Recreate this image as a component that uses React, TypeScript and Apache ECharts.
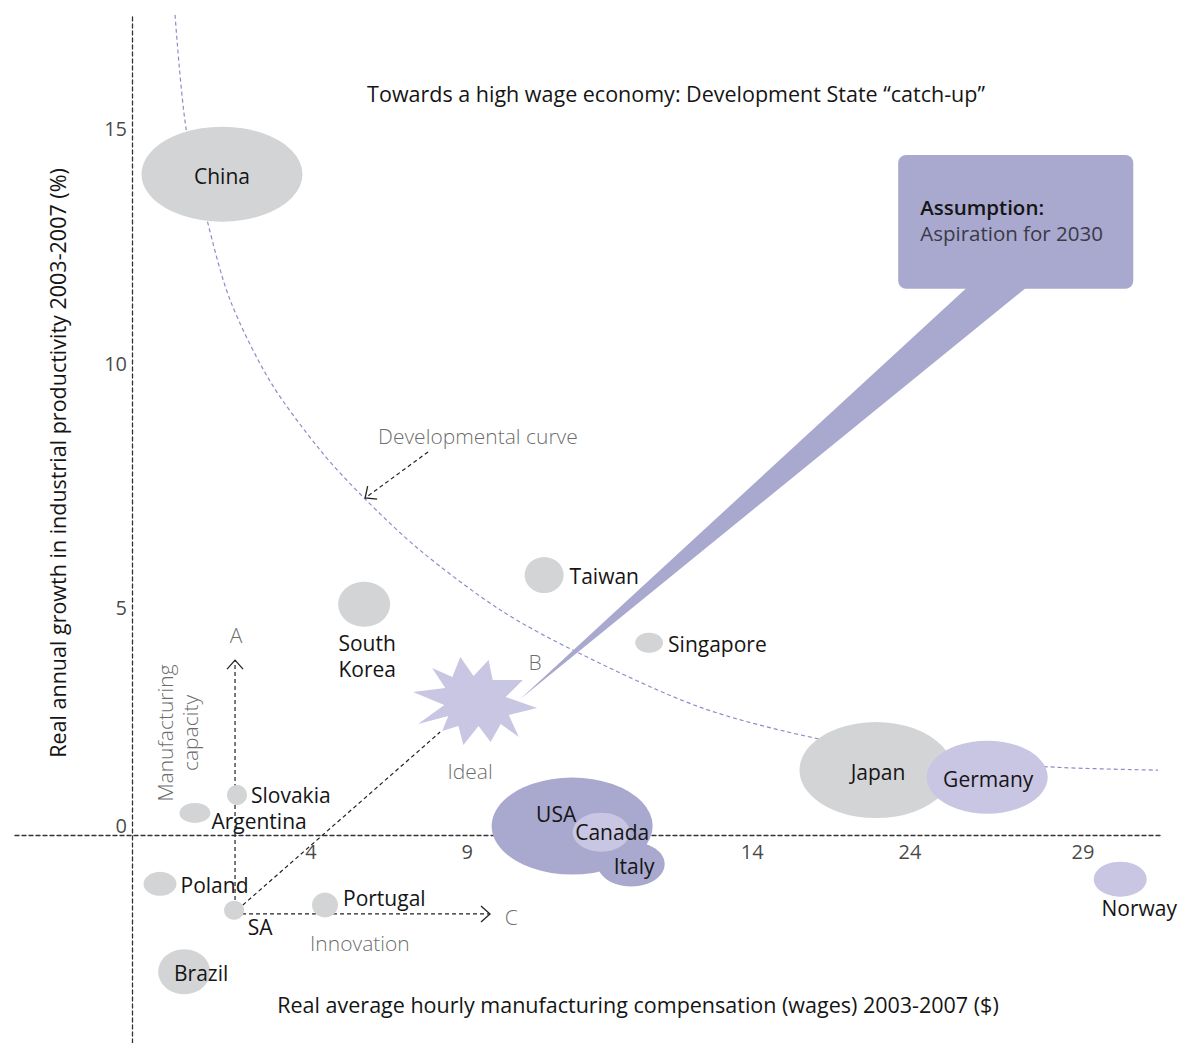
import React, { useEffect, useRef } from "react";
import * as echarts from "echarts";

// ---- Data ----
const countries = ["China", "South Korea", "Taiwan", "Singapore", "Japan", "Germany", "USA", "Italy", "Canada", "Norway", "Slovakia", "Argentina", "Poland", "SA", "Portugal", "Brazil"];
const wages = [2.76, 7.12, 12.64, 15.86, 22.82, 26.23, 13.5, 15.31, 14.39, 30.31, 3.22, 1.93, 0.86, 3.13, 5.92, 1.6];
const productivity = [14.06, 4.91, 5.53, 4.09, 1.38, 1.23, 0.19, -0.62, 0.06, -0.94, 0.85, 0.47, -1.04, -1.6, -1.49, -2.91];
const bubbleW = [161, 52, 39, 28, 153, 121, 161, 67, 57, 53, 20, 31, 33, 20, 26, 52];
const bubbleH = [95, 45, 36, 20, 96, 73, 97, 45, 39, 35, 20, 20, 24, 19, 25, 45];
const tier = ["emerging", "emerging", "emerging", "emerging", "emerging", "benchmark", "advanced", "advanced", "benchmark", "benchmark", "emerging", "emerging", "emerging", "emerging", "emerging", "emerging"];

const curveX = [1.32, 1.66, 2.3, 3.01, 4.23, 5.77, 7.09, 8.83, 11.29, 13.65, 17.42, 21.1, 24.79, 28.1, 31.47];
const curveY = [17.45, 15.02, 13.09, 11.38, 9.66, 8.19, 7.19, 6.06, 4.79, 3.89, 2.72, 2.04, 1.66, 1.45, 1.38];

const idealPoint = [10.52, 2.85];

const xTickLabels = ["4", "9", "14", "24", "29"];
const xTickPos = [5.49, 10.28, 19.02, 23.86, 29.17];
const yTickLabels = ["15", "10", "5", "0"];
const yTickPos = [15.04, 10.04, 4.83, 0.21];

// arrows: [x1, y1, x2, y2, hasHead]
const arrowA = [3.16, -1.68, 3.16, 3.72, 1];
const arrowC = [3.16, -1.68, 10.98, -1.68, 1];
const arrowB = [3.4, -1.49, 9.45, 2.19, 0];
const arrowCurve = [9.08, 8.15, 7.15, 7.17, 1];

const calloutBox = [23.5, 14.47, 30.71, 11.62];
const calloutBase = [25.77, 27.61, 11.75];
const calloutTip = [11.9, 2.89];

const noteTexts = ["A", "B", "C", "Ideal", "Innovation", "Developmental curve"];
const noteX = [3.19, 12.36, 11.63, 10.37, 6.99, 10.61];
const noteY = [4.26, 3.68, -1.74, 1.36, -2.3, 8.49];

const X_MIN = -3.589, X_MAX = 31.53, Y_MIN = -4.426, Y_MAX = 17.447;

const FONT = "'Open Sans', Lato, sans-serif";
const tierColor: Record<string, string> = { emerging: "#d3d4d6", advanced: "#a9a8ce", benchmark: "#c8c6e2" };

const labelCfg: Record<string, any> = {
  China: { position: "inside", offset: [0, 2] },
  "South Korea": { position: "bottom", distance: 3, offset: [3, 0], formatter: "South\nKorea", lineHeight: 26 },
  Taiwan: { position: "right", distance: 6, offset: [0, 1] },
  Singapore: { position: "right", distance: 5, offset: [0, 1] },
  Japan: { position: "inside", offset: [2, 2] },
  Germany: { position: "inside", offset: [1, 2] },
  USA: { position: "inside", offset: [-16, -12] },
  Italy: { position: "inside", offset: [3, 2] },
  Canada: { position: "inside", offset: [11, 0] },
  Norway: { position: "bottom", distance: 1, offset: [19, 0] },
  Slovakia: { position: "right", distance: 4, offset: [0, 0], lineHeight: 21 },
  Argentina: { position: "right", distance: 1, offset: [0, 8], lineHeight: 21 },
  Poland: { position: "right", distance: 4, offset: [0, 1] },
  SA: { position: "inside", offset: [26, 17] },
  Portugal: { position: "right", distance: 5, offset: [0, -7] },
  Brazil: { position: "inside", offset: [17, 1] },
};

const starPath =
  "path://M413,692L445,688L432,668L452,677L460,657L473,676L488,660L492,680L522,680L505,697L536,708L508,715L518,737L500,724L490,742L478,726L463,745L458,726L442,731L448,716L418,724L444,705Z";

export default function App() {
  const ref = useRef<HTMLDivElement>(null);
  useEffect(() => {
    if (!ref.current) return;
    const chart = echarts.init(ref.current, null, { renderer: "svg" });

    const bubbleData = countries.map((c, i) => ({
      name: c,
      value: [wages[i], productivity[i]],
      symbolSize: [bubbleW[i], bubbleH[i]],
      itemStyle: { color: tierColor[tier[i]] },
      label: {
        show: true,
        formatter: "{b}",
        color: "#151515",
        fontSize: 21,
        fontFamily: FONT,
        ...labelCfg[c],
      },
    }));

    const arrowRender = (params: any, api: any) => {
      const p1 = api.coord([api.value(0), api.value(1)]);
      const p2 = api.coord([api.value(2), api.value(3)]);
      const head = api.value(4);
      const children: any[] = [
        {
          type: "line",
          shape: { x1: p1[0], y1: p1[1], x2: p2[0], y2: p2[1] },
          style: { stroke: "#222", lineWidth: 1.2, lineDash: [4, 3] },
        },
      ];
      if (head) {
        const dx = p2[0] - p1[0], dy = p2[1] - p1[1];
        const len = Math.sqrt(dx * dx + dy * dy);
        const ux = dx / len, uy = dy / len;
        const nx = -uy, ny = ux;
        const L = 9, W = 8;
        children.push({
          type: "polyline",
          shape: {
            points: [
              [p2[0] - ux * L + nx * W, p2[1] - uy * L + ny * W],
              [p2[0], p2[1]],
              [p2[0] - ux * L - nx * W, p2[1] - uy * L - ny * W],
            ],
          },
          style: { stroke: "#222", lineWidth: 1.3, fill: null },
        });
      }
      return { type: "group", children };
    };

    const calloutRender = (params: any, api: any) => {
      const tl = api.coord([api.value(0), api.value(1)]);
      const br = api.coord([api.value(2), api.value(3)]);
      const bl = api.coord([api.value(4), api.value(6)]);
      const brw = api.coord([api.value(5), api.value(6)]);
      const tip = api.coord([api.value(7), api.value(8)]);
      return {
        type: "group",
        children: [
          {
            type: "polygon",
            shape: { points: [bl, brw, tip] },
            style: { fill: "#a9a8ce" },
          },
          {
            type: "rect",
            shape: { x: tl[0], y: tl[1], width: br[0] - tl[0], height: br[1] - tl[1], r: 8 },
            style: { fill: "#a9a8ce" },
          },
          {
            type: "text",
            x: tl[0] + 22,
            y: tl[1] + 52,
            style: { text: "Assumption:", fill: "#151515", fontSize: 20.5, fontWeight: 600, fontFamily: FONT, textAlign: "left", textVerticalAlign: "middle" },
          },
          {
            type: "text",
            x: tl[0] + 22,
            y: tl[1] + 78,
            style: { text: "Aspiration for 2030", fill: "#3a3a48", fontSize: 20.5, fontFamily: FONT, textAlign: "left", textVerticalAlign: "middle" },
          },
        ],
      };
    };

    const option: any = {
      animation: false,
      grid: { left: 15, right: 19, top: 15, bottom: 0, containLabel: false },
      xAxis: {
        type: "value",
        min: X_MIN,
        max: X_MAX,
        axisLine: { show: true, onZero: true, lineStyle: { color: "#333", width: 1.3, type: [4, 3] } },
        axisTick: { show: false },
        axisLabel: { show: false },
        splitLine: { show: false },
      },
      yAxis: {
        type: "value",
        min: Y_MIN,
        max: Y_MAX,
        axisLine: { show: true, onZero: true, lineStyle: { color: "#333", width: 1.3, type: [4, 3] } },
        axisTick: { show: false },
        axisLabel: { show: false },
        splitLine: { show: false },
      },
      graphic: [
        {
          type: "text",
          x: 676,
          y: 93,
          style: { text: "Towards a high wage economy: Development State \u201ccatch-up\u201d", fill: "#151515", fontSize: 21.5, fontFamily: FONT, textAlign: "center", textVerticalAlign: "middle" },
        },
        {
          type: "text",
          x: 638,
          y: 1004,
          style: { text: "Real average hourly manufacturing compensation (wages) 2003-2007 ($)", fill: "#151515", fontSize: 21.5, fontFamily: FONT, textAlign: "center", textVerticalAlign: "middle" },
        },
        {
          type: "text",
          x: 57,
          y: 463,
          rotation: Math.PI / 2,
          style: { text: "Real annual growth in industrial productivity 2003-2007 (%)", fill: "#151515", fontSize: 21.5, fontFamily: FONT, textAlign: "center", textVerticalAlign: "middle" },
        },
      ],
      series: [
        {
          type: "line",
          z: 1,
          silent: true,
          smooth: 0.3,
          showSymbol: false,
          data: curveX.map((x, i) => [x, curveY[i]]),
          lineStyle: { color: "#8e8cc8", width: 1.2, type: [4, 3] },
        },
        {
          type: "custom",
          z: 2,
          silent: true,
          renderItem: calloutRender,
          encode: { x: [0, 2], y: [1, 3] },
          data: [[calloutBox[0], calloutBox[1], calloutBox[2], calloutBox[3], calloutBase[0], calloutBase[1], calloutBase[2], calloutTip[0], calloutTip[1]]],
        },
        {
          type: "custom",
          z: 3,
          silent: true,
          renderItem: arrowRender,
          encode: { x: [0, 2], y: [1, 3] },
          data: [arrowA, arrowC, arrowB, arrowCurve],
        },
        {
          type: "scatter",
          z: 3,
          silent: true,
          symbol: starPath,
          symbolSize: [124, 88],
          itemStyle: { color: "#c8c6e2", opacity: 1 },
          data: [idealPoint],
        },
        {
          type: "scatter",
          z: 4,
          silent: true,
          itemStyle: { opacity: 1 },
          data: bubbleData,
        },
        {
          type: "scatter",
          z: 5,
          silent: true,
          symbolSize: 0,
          itemStyle: { color: "#fff" },
          label: { show: true, position: "inside", formatter: "{b}", color: "#444", fontSize: 21, fontWeight: 300, fontFamily: FONT },
          data: noteTexts.map((t, i) => ({ name: t, value: [noteX[i], noteY[i]] })),
        },
        {
          type: "scatter",
          z: 5,
          silent: true,
          symbolSize: 0,
          itemStyle: { color: "#fff" },
          label: { show: true, position: "inside", rotate: 90, formatter: "Manufacturing\ncapacity", color: "#444", fontSize: 21, fontWeight: 300, lineHeight: 25, fontFamily: FONT },
          data: [{ name: "Manufacturing capacity", value: [1.41, 2.17] }],
        },
        {
          type: "scatter",
          z: 5,
          silent: true,
          symbolSize: 0,
          itemStyle: { color: "#fff" },
          label: { show: true, position: "inside", formatter: "{b}", color: "#151515", fontSize: 20, fontFamily: FONT },
          data: xTickLabels.map((t, i) => ({ name: t, value: [xTickPos[i], -0.36] })),
        },
        {
          type: "scatter",
          z: 5,
          silent: true,
          symbolSize: 0,
          itemStyle: { color: "#fff" },
          label: { show: true, position: "left", distance: 5, formatter: "{b}", color: "#151515", fontSize: 20, fontFamily: FONT },
          data: yTickLabels.map((t, i) => ({ name: t, value: [0, yTickPos[i]] })),
        },
      ],
    };

    chart.setOption(option);
    return () => chart.dispose();
  }, []);

  return <div ref={ref} style={{ position: "absolute", left: 0, top: 0, width: 1179, height: 1043 }} />;
}
